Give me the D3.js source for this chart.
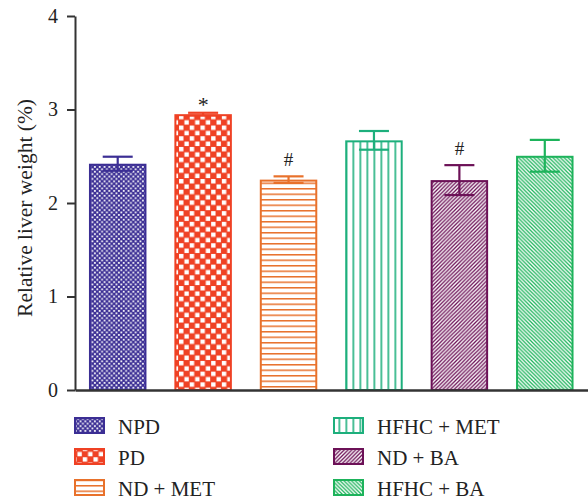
<!DOCTYPE html>
<html><head><meta charset="utf-8">
<script src="https://cdn.jsdelivr.net/npm/d3@7"></script>
<style>body{margin:0;background:#fff}svg{display:block}text{font-family:"Liberation Serif","Times New Roman",serif;fill:#222}</style>
</head><body>
<svg id="c" width="588" height="500"></svg>
<script>
const categories = ["NPD","PD","ND + MET","HFHC + MET","ND + BA","HFHC + BA"];
const means  = [2.42, 2.95, 2.25, 2.67, 2.245, 2.505];
const errors = [0.075, 0.015, 0.035, 0.10, 0.16, 0.17];
const marks  = ["", "*", "#", "", "#", ""];
const yTicks = [0,1,2,3,4];
const colors = ["#3b2e94","#ef4124","#e8712b","#1daf7c","#6c1157","#1db35b"];
const patternKinds = ["fineCheck","bigCheck","hlines","vlines","diagUp","diagDown"];

const svg = d3.select("#c");
const x = d3.scaleBand().domain(categories).range([75, 587.5]).paddingInner(0.327).paddingOuter(0.1635);
const y = d3.scaleLinear().domain([0,4]).range([390,16]);

const defs = svg.append("defs");
patternKinds.forEach((k,i)=>{
  const c = colors[i];
  let p;
  if(k==="fineCheck"){
    p = defs.append("pattern").attr("id","p"+i).attr("patternUnits","userSpaceOnUse").attr("width",4.8).attr("height",4.8);
    p.append("rect").attr("width",4.8).attr("height",4.8).attr("fill",c);
    p.append("rect").attr("x",0.4).attr("y",0.4).attr("width",1.8).attr("height",1.8).attr("fill","#fff");
    p.append("rect").attr("x",2.8).attr("y",2.8).attr("width",1.8).attr("height",1.8).attr("fill","#fff");
  } else if(k==="bigCheck"){
    p = defs.append("pattern").attr("id","p"+i).attr("patternUnits","userSpaceOnUse").attr("width",10.7).attr("height",10.7).attr("x",2).attr("y",2);
    p.append("rect").attr("width",10.7).attr("height",10.7).attr("fill",c);
    p.append("rect").attr("x",0.5).attr("y",0.5).attr("width",4.4).attr("height",4.4).attr("fill","#fff");
    p.append("rect").attr("x",5.85).attr("y",5.85).attr("width",4.4).attr("height",4.4).attr("fill","#fff");
  } else if(k==="hlines"){
    p = defs.append("pattern").attr("id","p"+i).attr("patternUnits","userSpaceOnUse").attr("width",10).attr("height",5.5).attr("y",1);
    p.append("rect").attr("width",10).attr("height",5.5).attr("fill","#fff");
    p.append("rect").attr("y",0).attr("width",10).attr("height",1.5).attr("fill",c);
  } else if(k==="vlines"){
    p = defs.append("pattern").attr("id","p"+i).attr("patternUnits","userSpaceOnUse").attr("width",7).attr("height",10).attr("x",345.5);
    p.append("rect").attr("width",7).attr("height",10).attr("fill","#fff");
    p.append("rect").attr("x",0).attr("width",1.6).attr("height",10).attr("fill",c);
  } else if(k==="diagUp"){
    p = defs.append("pattern").attr("id","p"+i).attr("patternUnits","userSpaceOnUse").attr("width",3.8).attr("height",3.8);
    p.append("rect").attr("width",3.8).attr("height",3.8).attr("fill","#fff");
    p.append("path").attr("d","M-1,4.8L4.8,-1M-1,1L1,-1M2.8,4.8L4.8,2.8").attr("stroke",c).attr("stroke-width",1.3);
  } else {
    p = defs.append("pattern").attr("id","p"+i).attr("patternUnits","userSpaceOnUse").attr("width",3.8).attr("height",3.8);
    p.append("rect").attr("width",3.8).attr("height",3.8).attr("fill","#fff");
    p.append("path").attr("d","M-1,-1L4.8,4.8M2.8,-1L4.8,1M-1,2.8L1,4.8").attr("stroke",c).attr("stroke-width",1.3);
  }
});

// bars
svg.append("g").selectAll("rect").data(categories).join("rect")
  .attr("x",d=>x(d)+1).attr("width",x.bandwidth()-2)
  .attr("y",(d,i)=>y(means[i])+1).attr("height",(d,i)=>y(0)-y(means[i])-1)
  .attr("fill",(d,i)=>`url(#p${i})`).attr("stroke",(d,i)=>colors[i]).attr("stroke-width",2);

// error bars
const capW = 30;
const eg = svg.append("g");
categories.forEach((d,i)=>{
  const cx = x(d)+x.bandwidth()/2;
  const hi = y(means[i]+errors[i]), lo = y(means[i]-errors[i]);
  const g = eg.append("g").attr("stroke",colors[i]).attr("stroke-width",2.2);
  g.append("line").attr("x1",cx).attr("x2",cx).attr("y1",hi).attr("y2",lo);
  g.append("line").attr("x1",cx-capW/2).attr("x2",cx+capW/2).attr("y1",hi).attr("y2",hi);
  g.append("line").attr("x1",cx-capW/2).attr("x2",cx+capW/2).attr("y1",lo).attr("y2",lo);
  if(marks[i]){
    const star = marks[i]==="*";
    svg.append("text").attr("x",cx).attr("y",hi-(star ? 1 : 10)).attr("text-anchor","middle")
      .style("font-size", star ? "22px" : "19px").text(marks[i]);
  }
});

// axes
const ya = svg.append("g").attr("transform","translate(75,0)")
  .call(d3.axisLeft(y).tickValues(yTicks).tickFormat(d3.format("d")).tickSize(8).tickSizeOuter(0).tickPadding(9));
ya.select(".domain").attr("stroke","#333").attr("stroke-width",2);
ya.selectAll(".tick line").attr("stroke","#333").attr("stroke-width",2);
ya.selectAll(".tick text").style("font-size","20px").style("font-family",'"Liberation Serif",serif').attr("fill","#222");

const xa = svg.append("g").attr("transform","translate(0,390)")
  .call(d3.axisBottom(x).tickSize(0).tickSizeOuter(0).tickFormat(""));
xa.select(".domain").attr("stroke","#333").attr("stroke-width",2.5);

svg.append("text").attr("transform","translate(32,208) rotate(-90)").attr("text-anchor","middle")
  .style("font-size","21.5px").text("Relative liver weight (%)");

// legend
const lg = svg.append("g");
categories.forEach((d,i)=>{
  const col = Math.floor(i/3), row = i%3;
  const lx = col===0 ? 75 : 334;
  const ly = 418 + row*31;
  lg.append("rect").attr("x",lx).attr("y",ly).attr("width",29).attr("height",15)
    .attr("fill",`url(#p${i})`).attr("stroke",colors[i]).attr("stroke-width",2);
  lg.append("text").attr("x",lx+43).attr("y",ly+15.5).style("font-size","21px").text(d);
});
</script>
</body></html>
